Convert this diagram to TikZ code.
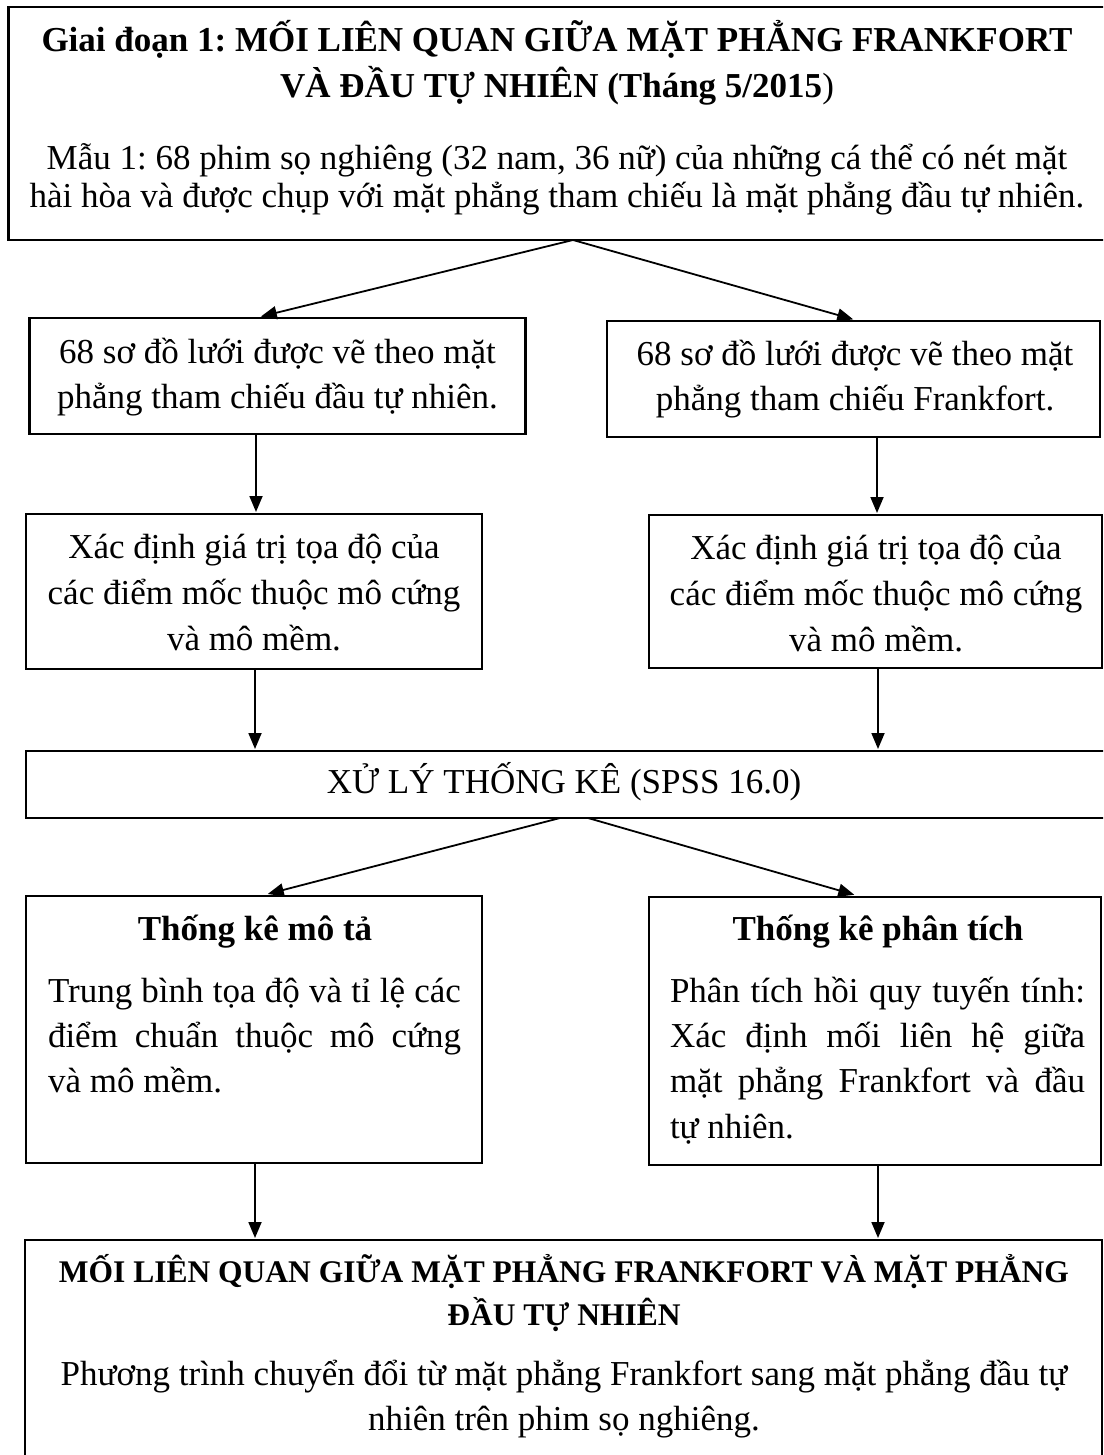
\documentclass[tikz,border=0pt]{standalone}
\usepackage{fontspec}
\setmainfont{Liberation Serif}
\usetikzlibrary{arrows.meta}
\newcommand\firstln{\rule{0pt}{36pt}}
\frenchspacing
\begin{document}
\begin{tikzpicture}[x=1pt,y=-1pt,
  box/.style={draw, line width=2.8pt, anchor=north west, inner sep=0pt, outer sep=0pt},
  txt/.style={anchor=north, inner sep=0pt, align=center},
  jtxt/.style={anchor=north, inner sep=0pt, align=justify},
  con/.style={line width=1.8pt, -{Triangle[length=16pt,width=13pt]}},
]
\useasboundingbox (0,0) rectangle (1103,1455);
\clip (0,0) rectangle (1103,1455);
\fill[white] (0,0) rectangle (1103,1455);

% boxes
\node[box, minimum width=1111.5pt, minimum height=233pt] (top) at (8.5,7) {};
\node[box, minimum width=496pt, minimum height=116pt] (L1) at (29.5,318) {};
\node[box, minimum width=493pt, minimum height=116pt] (R1) at (607,321) {};
\node[box, minimum width=456pt, minimum height=155pt] (L2) at (26,514) {};
\node[box, minimum width=453pt, minimum height=153pt] (R2) at (649,515) {};
\node[box, minimum width=1090pt, minimum height=67pt] (spss) at (26,751) {};
\node[box, minimum width=456pt, minimum height=267pt] (L3) at (26,896) {};
\node[box, minimum width=452pt, minimum height=268pt] (R3) at (649,897) {};
\node[box, minimum width=1077pt, minimum height=240pt] (bot) at (25,1240) {};

% texts
\node[txt, font=\fontsize{35}{46}\selectfont\bfseries] (topT) at (557,15)
  {\firstln Giai đoạn 1: MỐI LIÊN QUAN GIỮA MẶT PHẲNG FRANKFORT\\VÀ ĐẦU TỰ NHIÊN (Tháng 5/2015{\mdseries)}};
\node[txt, font=\fontsize{35}{38.5}\selectfont] (topB) at (557,133)
  {\firstln Mẫu 1: 68 phim sọ nghiêng (32 nam, 36 nữ) của những cá thể có nét mặt\\hài hòa và được chụp với mặt phẳng tham chiếu là mặt phẳng đầu tự nhiên.};
\node[txt, font=\fontsize{35}{45}\selectfont] (L1t) at (277.5,327)
  {\firstln 68 sơ đồ lưới được vẽ theo mặt\\phẳng tham chiếu đầu tự nhiên.};
\node[txt, font=\fontsize{35}{45}\selectfont] (R1t) at (855,329)
  {\firstln 68 sơ đồ lưới được vẽ theo mặt\\phẳng tham chiếu Frankfort.};
\node[txt, font=\fontsize{35}{46}\selectfont] (L2t) at (254,522)
  {\firstln Xác định giá trị tọa độ của\\các điểm mốc thuộc mô cứng\\và mô mềm.};
\node[txt, font=\fontsize{35}{46}\selectfont] (R2t) at (876,523)
  {\firstln Xác định giá trị tọa độ của\\các điểm mốc thuộc mô cứng\\và mô mềm.};
\node[txt, font=\fontsize{35}{46}\selectfont] (spsst) at (564,757)
  {\firstln XỬ LÝ THỐNG KÊ (SPSS 16.0)};
\node[txt, font=\fontsize{35}{46}\selectfont\bfseries] (L3T) at (255,904)
  {\firstln Thống kê mô tả};
\node[jtxt, text width=413pt, font=\fontsize{35}{45.3}\selectfont] (L3b) at (254.5,966)
  {\noindent\firstln Trung bình tọa độ và tỉ lệ các\linebreak điểm chuẩn thuộc mô cứng\linebreak và mô mềm.};
\node[txt, font=\fontsize{35}{46}\selectfont\bfseries] (R3T) at (878,904)
  {\firstln Thống kê phân tích};
\node[jtxt, text width=415pt, font=\fontsize{35}{45.3}\selectfont] (R3b) at (877.5,966)
  {\noindent\firstln Phân tích hồi quy tuyến tính:\linebreak Xác định mối liên hệ giữa\linebreak mặt phẳng Frankfort và đầu\linebreak tự nhiên.};
\node[txt, font=\fontsize{31.5}{43}\selectfont\bfseries] (botT) at (564,1246)
  {\firstln MỐI LIÊN QUAN GIỮA MẶT PHẲNG FRANKFORT VÀ MẶT PHẲNG\\ĐẦU TỰ NHIÊN};
\node[txt, font=\fontsize{35}{45}\selectfont] (botB) at (564,1349)
  {\firstln Phương trình chuyển đổi từ mặt phẳng Frankfort sang mặt phẳng đầu tự\\nhiên trên phim sọ nghiêng.};

% connectors
\draw[con, shorten >=6pt] (573,0 |- top.south) -- (255,0 |- L1.north);
\draw[con, shorten >=6pt] (573,0 |- top.south) -- (859,0 |- R1.north);
\draw[con, shorten >=2pt] (256,0 |- L1.south) -- (256,0 |- L2.north);
\draw[con, shorten >=2pt] (877,0 |- R1.south) -- (877,0 |- R2.north);
\draw[con, shorten >=2pt] (255,0 |- L2.south) -- (255,0 |- spss.north);
\draw[con, shorten >=2pt] (878,0 |- R2.south) -- (878,0 |- spss.north);
\draw[con, shorten >=8pt] (560,0 |- spss.south) -- (260,0 |- L3.north);
\draw[con, shorten >=8pt] (588,0 |- spss.south) -- (862,0 |- R3.north);
\draw[con, shorten >=2pt] (255,0 |- L3.south) -- (255,0 |- bot.north);
\draw[con, shorten >=2pt] (878,0 |- R3.south) -- (878,0 |- bot.north);
\end{tikzpicture}
\end{document}
